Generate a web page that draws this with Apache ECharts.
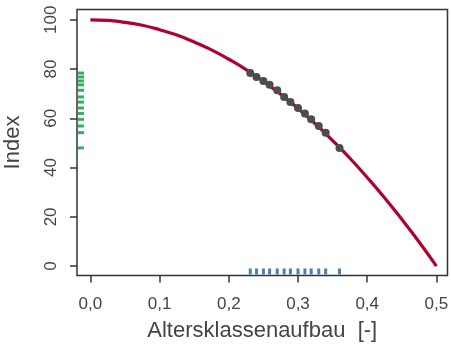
<!DOCTYPE html>
<html>
<head>
<meta charset="utf-8">
<script src="https://cdn.jsdelivr.net/npm/echarts@6/dist/echarts.min.js"></script>
<style>
  html, body { margin: 0; padding: 0; background: #fff; }
  #main { width: 451px; height: 344px; }
</style>
</head>
<body>
<div id="main"></div>
<script>
// red curve
var curveX = [0, 0.025, 0.05, 0.075, 0.1, 0.125, 0.15, 0.175, 0.2, 0.225, 0.25,
              0.275, 0.3, 0.325, 0.35, 0.375, 0.4, 0.425, 0.45, 0.475, 0.5];
var curveY = [100, 99.8, 99, 97.8, 96, 93.8, 91, 87.8, 84, 79.8, 75,
              69.8, 64, 57.8, 51, 43.8, 36, 27.8, 19, 9.8, 0];

// grey observations on the curve (also used for the rugs)
var pointsX = [0.231, 0.240, 0.250, 0.259, 0.270, 0.280, 0.289, 0.300, 0.310, 0.319, 0.330, 0.340, 0.360];
var pointsY = [78.4, 76.8, 75.2, 73.6, 71.4, 68.7, 66.6, 64.2, 62.0, 59.6, 56.9, 54.2, 48.0];

var xTicks = [0, 0.1, 0.2, 0.3, 0.4, 0.5];
var yTicks = [0, 20, 40, 60, 80, 100];

var font = 'Liberation Sans';
var textColor = '#444';

var myChart = echarts.init(document.getElementById('main'));

function rugLeft(params, api) {
  var cs = params.coordSys;
  var y = api.coord([0, api.value(0)])[1];
  return { type: 'line', shape: { x1: cs.x + 1, y1: y, x2: cs.x + 7, y2: y },
           style: { stroke: '#31b05e', lineWidth: 3 } };
}
function rugBottom(params, api) {
  var cs = params.coordSys;
  var x = api.coord([api.value(0), 0])[0];
  var yb = cs.y + cs.height;
  return { type: 'line', shape: { x1: x, y1: yb - 1, x2: x, y2: yb - 7 },
           style: { stroke: '#4a7fb6', lineWidth: 3 } };
}

var option = {
  animation: false,
  grid: {
    left: 77, right: 3.5, top: 9.5, bottom: 68.5,
    outerBoundsMode: 'none', containLabel: false,
    show: true, borderColor: '#333', borderWidth: 1.5, backgroundColor: '#fff'
  },
  xAxis: {
    type: 'value', min: -0.0193, max: 0.516,
    name: 'Altersklassenaufbau  [-]', nameLocation: 'middle', nameGap: 44,
    nameTextStyle: { fontFamily: font, fontSize: 22, color: textColor },
    axisLine: { show: false, onZero: false },
    axisTick: { show: true, customValues: xTicks, length: 7, lineStyle: { color: '#333', width: 1.5 } },
    axisLabel: { customValues: xTicks, fontFamily: font, fontSize: 17, color: textColor, margin: 20,
                 formatter: function (v) { return v.toFixed(1).replace('.', ','); } },
    splitLine: { show: false }
  },
  yAxis: {
    type: 'value', min: -3.8, max: 104.2,
    name: 'Index', nameLocation: 'middle', nameGap: 53,
    nameTextStyle: { fontFamily: font, fontSize: 22, color: textColor },
    axisLine: { show: false, onZero: false },
    axisTick: { show: true, customValues: yTicks, length: 7, lineStyle: { color: '#333', width: 1.5 } },
    axisLabel: { customValues: yTicks, rotate: 90, fontFamily: font, fontSize: 17, color: textColor, margin: 17 },
    splitLine: { show: false }
  },
  series: [
    {
      type: 'line', smooth: true, showSymbol: false, z: 2,
      lineStyle: { color: '#b0002b', width: 3.2 },
      data: curveX.map(function (x, i) { return [x, curveY[i]]; })
    },
    {
      type: 'scatter', symbolSize: 8, z: 3,
      itemStyle: { color: '#4d4d4d', opacity: 1 },
      data: pointsX.map(function (x, i) { return [x, pointsY[i]]; })
    },
    {
      type: 'custom', renderItem: rugLeft, clip: false, z: 4,
      encode: { y: 0 },
      data: pointsY.map(function (y) { return [y]; })
    },
    {
      type: 'custom', renderItem: rugBottom, clip: false, z: 4,
      encode: { x: 0 },
      data: pointsX.map(function (x) { return [x]; })
    }
  ]
};
myChart.setOption(option);
</script>
</body>
</html>
